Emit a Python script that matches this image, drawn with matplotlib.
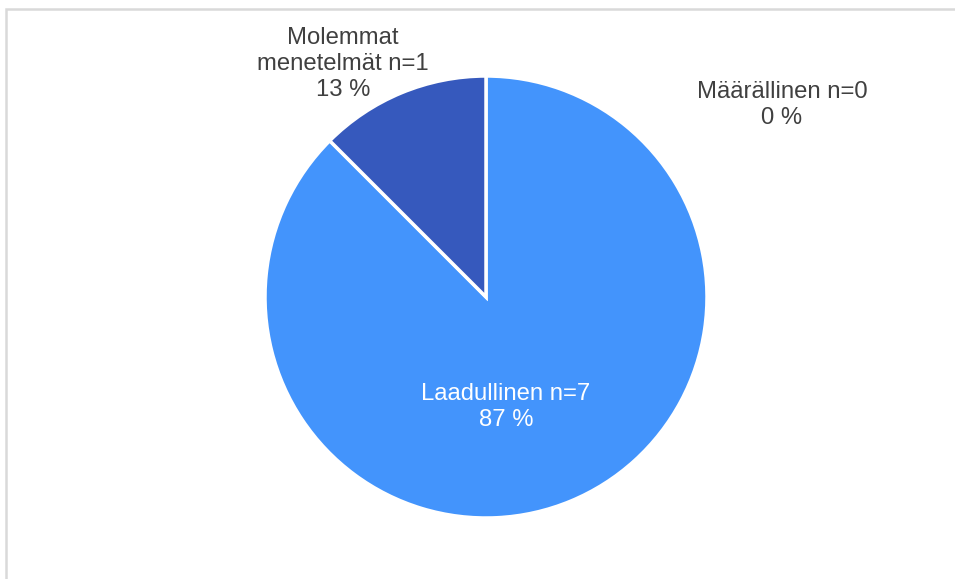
import matplotlib
matplotlib.use("Agg")
import matplotlib.pyplot as plt
from matplotlib.patches import Rectangle

plt.rcParams["font.family"] = ["Liberation Sans", "DejaVu Sans"]

# order: clockwise from 12 o'clock
categories = ["Määrällinen", "Laadullinen", "Molemmat menetelmät"]
counts = [0, 7, 1]
percents = ["0 %", "87 %", "13 %"]
colors = ["#a5a5a5", "#4394fc", "#3659bd"]

W, H = 955, 579
fig = plt.figure(figsize=(W / 100, H / 100), dpi=100)
ax = fig.add_axes([0, 0, 1, 1])

cx, cy, r = 486, H - 297, 221
ax.pie(counts, colors=colors, startangle=90, counterclock=False,
       center=(cx, cy), radius=r,
       wedgeprops=dict(edgecolor="white", linewidth=2.5))

# pie() resets the limits, so put pixel-like limits back afterwards
ax.set_xlim(0, W)
ax.set_ylim(0, H)
ax.set_aspect("equal")
ax.axis("off")

# light grey chart frame (only left/top visible in the crop)
ax.add_patch(Rectangle((6, -20), W + 40, H - 9 + 20, fill=False,
                       edgecolor="#d9d9d9", lw=1.8))

fs = 17.2
txt = "#404040"
ls = 1.22
ax.text(343, H - 64, f"Molemmat\nmenetelmät n={counts[2]}\n{percents[2]}",
        ha="center", va="center", fontsize=fs, color=txt, linespacing=ls)
ax.text(782, H - 105, f"{categories[0]} n={counts[0]}\n{percents[0]}",
        ha="center", va="center", fontsize=fs, color=txt, linespacing=ls)
ax.text(506, H - 407, f"{categories[1]} n={counts[1]}\n{percents[1]}",
        ha="center", va="center", fontsize=fs, color="white", linespacing=ls)

fig.savefig("out.png", dpi=100)
